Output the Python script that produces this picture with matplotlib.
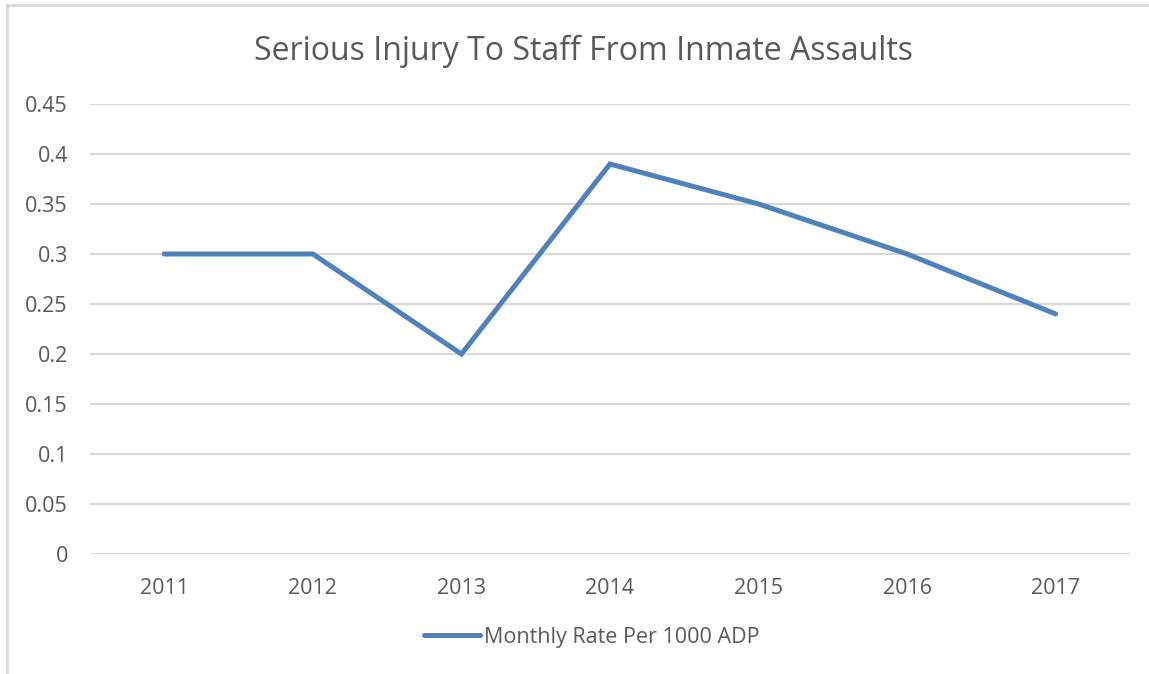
import matplotlib
matplotlib.use("Agg")
import matplotlib.pyplot as plt
from matplotlib.lines import Line2D

years = ["2011", "2012", "2013", "2014", "2015", "2016", "2017"]
rates = [0.30, 0.30, 0.20, 0.39, 0.35, 0.30, 0.24]
yticks = [0, 0.05, 0.1, 0.15, 0.2, 0.25, 0.3, 0.35, 0.4, 0.45]
ytick_labels = ["0", "0.05", "0.1", "0.15", "0.2", "0.25", "0.3", "0.35", "0.4", "0.45"]
title = "Serious Injury To Staff From Inmate Assaults"
series_name = "Monthly Rate Per 1000 ADP"

plt.rcParams['font.family'] = ['Open Sans', 'DejaVu Sans']
W, H = 1149, 674
fig = plt.figure(figsize=(W/100, H/100), dpi=100)
ax = fig.add_axes([90/W, 1-554/H, (1130-90)/W, (554-104)/H])

x = list(range(len(years)))
ax.plot(x, rates, color="#4F81BD", linewidth=3.6, solid_capstyle="round",
        solid_joinstyle="miter", label=series_name, zorder=3)
ax.set_xlim(-0.5, len(years)-0.5)
ax.set_ylim(0, 0.45)
ax.set_yticks(yticks)
ax.set_yticklabels(ytick_labels)
ax.set_xticks(x)
ax.set_xticklabels(years)
ax.grid(axis="y", color="#D9D9D9", linewidth=1.6)
ax.set_axisbelow(True)
for s in ax.spines.values():
    s.set_visible(False)
ax.tick_params(axis="both", length=0, labelsize=15.5, colors="#595959")
ax.tick_params(axis="y", pad=16)
ax.tick_params(axis="x", pad=17)

fig.text(583/W, 1-51/H, title, ha="center", va="center", fontsize=23, color="#595959")

leg = fig.legend(handles=[Line2D([0], [0], color="#4F81BD", linewidth=3.6, solid_capstyle="round")],
                 labels=[series_name], loc="center", bbox_to_anchor=(592/W, 1-637/H),
                 frameon=False, fontsize=15.5, handlelength=2.6, handletextpad=0.2)
for t in leg.get_texts():
    t.set_color("#595959")

fig.add_artist(Line2D([7/W, 1], [1-5/H, 1-5/H], color="#D9D9D9", linewidth=2, transform=fig.transFigure))
fig.add_artist(Line2D([7/W, 7/W], [0, 1-5/H], color="#D9D9D9", linewidth=2, transform=fig.transFigure))

fig.savefig("out.png", dpi=100, facecolor="white")
